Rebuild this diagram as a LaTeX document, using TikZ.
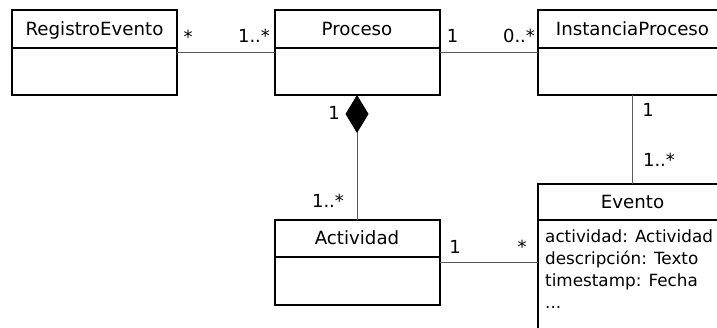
\documentclass[tikz,border=0pt]{standalone}
\usepackage{fontspec}
\setmainfont{DejaVu Sans}
\usetikzlibrary{positioning,arrows.meta}
\begin{document}
\begin{tikzpicture}[x=1pt, y=-1pt,
    cls/.style={draw, line width=2pt, outer sep=0pt, inner sep=0pt, minimum width=165pt, minimum height=38pt, text height=13pt, text depth=0pt, font=\fontsize{18.2}{21}\selectfont},
    clsbody/.style={draw, line width=2pt, outer sep=0pt, inner sep=0pt, minimum width=165pt, minimum height=47pt},
    assoc/.style={draw=black!65, line width=1pt},
    mult/.style={anchor=base, inner sep=0pt, font=\fontsize{18}{21}\selectfont}]
    \useasboundingbox (0,0) rectangle (717,328);
    \clip (0,0) rectangle (717,328);
    % clases
    \node[cls] (regH) at (94.5,29) {RegistroEvento};
    \node[clsbody, below=0pt of regH] (regB) {};
    \node[cls] (procH) at (357,29) {Proceso};
    \node[clsbody, below=0pt of procH] (procB) {};
    \node[cls, minimum width=189pt] (instH) at (632.5,29) {InstanciaProceso};
    \node[clsbody, minimum width=189pt, below=0pt of instH] (instB) {};
    \node[cls, minimum height=37pt] (actH) at (357,238.5) {Actividad};
    \node[clsbody, minimum height=48pt, below=0pt of actH] (actB) {};
    \node[cls, minimum width=189pt, minimum height=36pt] (evH) at (632.5,202) {Evento};
    \node[clsbody, minimum width=189pt, minimum height=150pt, below=0pt of evH] (evB) {};
    \node[anchor=north west, inner sep=0pt, align=left, font=\fontsize{16.8}{21.7}\selectfont]
        (evAttr) at ([xshift=7pt, yshift=-10pt]evB.north west)
        {actividad: Actividad\\descripción: Texto\\timestamp: Fecha\\...};
    % asociaciones
    \draw[assoc] ([yshift=-5pt]regB.north east) -- ([yshift=-5pt]procB.north west);
    \draw[assoc] ([yshift=-5pt]procB.north east) -- ([yshift=-5pt]instB.north west);
    \draw[assoc] (instB.south) -- (evH.north);
    \draw[assoc] ([yshift=-6pt]actB.north east) -- ([yshift=-6pt]actB.north east -| evB.west);
    \draw[assoc, -{Diamond[color=black, length=38pt, width=23pt]}] (actH.north) -- (procB.south);
    % multiplicidades
    \node[mult] (m1) at (188,44) {*};
    \node[mult] (m2) at (254,43) {1..*};
    \node[mult] (m3) at (452.5,43) {1};
    \node[mult] (m4) at (519,43) {0..*};
    \node[mult] (m5) at (334,120) {1};
    \node[mult] (m6) at (328,208) {1..*};
    \node[mult] (m7) at (648,117) {1};
    \node[mult] (m8) at (659,167) {1..*};
    \node[mult] (m9) at (455,254) {1};
    \node[mult] (m10) at (522,254) {*};
\end{tikzpicture}
\end{document}
